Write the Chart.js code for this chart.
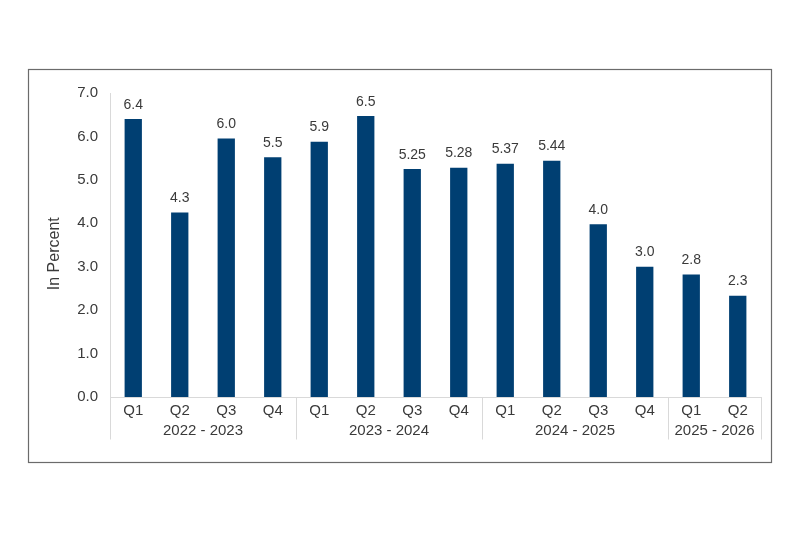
<!DOCTYPE html>
<html>
<head>
<meta charset="utf-8">
<script src="https://cdn.jsdelivr.net/npm/chart.js@4/dist/chart.umd.min.js"></script>
<style>
html,body{margin:0;padding:0;background:#fff;}
#wrap{width:800px;height:533px;position:relative;}
</style>
</head>
<body>
<div id="wrap"><canvas id="c"></canvas></div>
<script>
const quarters = ['Q1','Q2','Q3','Q4','Q1','Q2','Q3','Q4','Q1','Q2','Q3','Q4','Q1','Q2'];
const values = [6.4, 4.25, 5.95, 5.52, 5.88, 6.47, 5.25, 5.28, 5.37, 5.44, 3.98, 3.0, 2.82, 2.33];
const valueLabels = ['6.4','4.3','6.0','5.5','5.9','6.5','5.25','5.28','5.37','5.44','4.0','3.0','2.8','2.3'];
const groups = ['2022 - 2023','2023 - 2024','2024 - 2025','2025 - 2026'];
const groupSizes = [4, 4, 4, 2];
const yTicks = [0,1,2,3,4,5,6,7];
const yTitle = 'In Percent';

const FONT = '"Liberation Sans", Arial, sans-serif';
const TEXT = '#3a3a3a';
const AXIS = '#d9d9d9';

const extras = {
  id: 'extras',
  afterDraw(chart) {
    const ctx = chart.ctx;
    const x = chart.scales.x, y = chart.scales.y;
    const ca = chart.chartArea;
    ctx.save();
    // outer frame
    ctx.strokeStyle = '#6b6b6b';
    ctx.lineWidth = 1.2;
    ctx.strokeRect(28.5, 69.5, 743, 393);
    // value labels
    ctx.fillStyle = TEXT;
    ctx.font = '14px ' + FONT;
    ctx.textAlign = 'center';
    ctx.textBaseline = 'alphabetic';
    const meta = chart.getDatasetMeta(0);
    meta.data.forEach((bar, i) => {
      ctx.fillText(valueLabels[i], bar.x, bar.y - 10.5);
    });
    // group separators and labels
    const half = (x.getPixelForValue(1) - x.getPixelForValue(0)) / 2;
    ctx.strokeStyle = AXIS;
    ctx.lineWidth = 1;
    ctx.font = '15px ' + FONT;
    ctx.textBaseline = 'middle';
    let idx = 0;
    const bounds = [ca.left];
    groups.forEach((g, gi) => {
      const first = idx, last = idx + groupSizes[gi] - 1;
      const l = x.getPixelForValue(first) - half;
      const r = x.getPixelForValue(last) + half;
      bounds.push(r);
      ctx.fillText(g, (l + r) / 2, 431);
      idx += groupSizes[gi];
    });
    bounds.forEach(b => {
      const bx = Math.round(b) + 0.5;
      ctx.beginPath();
      ctx.moveTo(bx, ca.bottom);
      ctx.lineTo(bx, 439.5);
      ctx.stroke();
    });
    // y title
    ctx.save();
    ctx.translate(55, 253.7);
    ctx.rotate(-Math.PI / 2);
    ctx.font = '16px ' + FONT;
    ctx.fillStyle = TEXT;
    ctx.textAlign = 'center';
    ctx.textBaseline = 'middle';
    ctx.fillText(yTitle, 0, 0);
    ctx.restore();
    ctx.restore();
  }
};

new Chart(document.getElementById('c'), {
  type: 'bar',
  data: {
    labels: quarters,
    datasets: [{
      data: values,
      backgroundColor: '#003F72',
      borderWidth: 0,
      categoryPercentage: 1.0,
      barPercentage: 0.372
    }]
  },
  options: {
    responsive: true,
    maintainAspectRatio: false,
    animation: false,
    layout: { padding: { left: 0, top: 93, right: 39, bottom: 0 } },
    plugins: { legend: { display: false }, tooltip: { enabled: false } },
    scales: {
      x: {
        grid: { display: false, drawTicks: false },
        border: { display: true, color: AXIS, width: 1 },
        ticks: { color: TEXT, font: { size: 15, family: FONT }, padding: 5, maxRotation: 0, autoSkip: false },
        afterFit(s) { s.height = 136; }
      },
      y: {
        min: 0, max: 7,
        afterBuildTicks(s) { s.ticks = yTicks.map(v => ({ value: v })); },
        grid: { display: false, drawTicks: false },
        border: { display: true, color: AXIS, width: 1 },
        ticks: { color: TEXT, font: { size: 15, family: FONT }, padding: 12, callback: v => Number(v).toFixed(1) },
        afterFit(s) { s.width = 110; }
      }
    }
  },
  plugins: [extras]
});
</script>
</body>
</html>
